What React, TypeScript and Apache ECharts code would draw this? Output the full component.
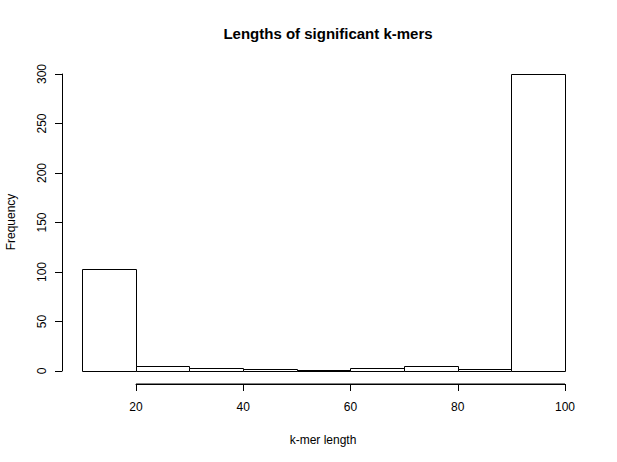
import React, { useEffect, useRef } from "react";
import * as echarts from "echarts";

const binStarts = [10, 20, 30, 40, 50, 60, 70, 80, 90];
const binEnds = [20, 30, 40, 50, 60, 70, 80, 90, 100];
const counts = [103, 5, 3, 2, 1, 3, 5, 2, 300];
const xTicks = [20, 40, 60, 80, 100];
const yTicks = [0, 50, 100, 150, 200, 250, 300];

const FONT = "Liberation Sans, Arial, Helvetica, sans-serif";

export default function App() {
  const ref = useRef<HTMLDivElement>(null);
  useEffect(() => {
    if (!ref.current) return;
    const chart = echarts.init(ref.current, null, { renderer: "svg" });
    const data = counts.map((c, i) => [binStarts[i], binEnds[i], c]);
    chart.setOption({
      animation: false,
      backgroundColor: "#ffffff",
      textStyle: { fontFamily: FONT },
      title: {
        text: "Lengths of significant k-mers",
        left: 323,
        top: 21,
        textAlign: "center",
        textStyle: { fontFamily: FONT, fontSize: 15, fontWeight: "bold", color: "#000" },
      },
      graphic: [
        {
          type: "text",
          x: 323,
          y: 440,
          style: {
            text: "k-mer length",
            fill: "#000",
            font: `12px ${FONT}`,
            textAlign: "center",
            textVerticalAlign: "middle",
          },
        },
        {
          type: "text",
          x: 11,
          y: 222,
          rotation: Math.PI / 2,
          style: {
            text: "Frequency",
            fill: "#000",
            font: `12px ${FONT}`,
            textAlign: "center",
            textVerticalAlign: "middle",
          },
        },
      ],
      grid: [
        { left: 82, right: 52, top: 74, bottom: 91 },
        { left: 136, right: 52, top: 74, bottom: 78 },
      ],
      xAxis: [
        {
          type: "value",
          gridIndex: 0,
          min: 10,
          max: 100,
          show: false,
        },
        {
          type: "value",
          gridIndex: 1,
          min: xTicks[0],
          max: xTicks[xTicks.length - 1],
          interval: 20,
          axisLine: { show: true, onZero: false, lineStyle: { color: "#000", width: 1 } },
          axisTick: { show: true, inside: false, length: 7, lineStyle: { color: "#000", width: 1 } },
          axisLabel: { show: true, color: "#000", fontSize: 12, margin: 17, fontFamily: FONT },
          splitLine: { show: false },
        },
      ],
      yAxis: [
        {
          type: "value",
          gridIndex: 0,
          min: yTicks[0],
          max: yTicks[yTicks.length - 1],
          interval: 50,
          offset: 20,
          axisLine: { show: true, lineStyle: { color: "#000", width: 1 } },
          axisTick: { show: true, length: 7, lineStyle: { color: "#000", width: 1 } },
          axisLabel: {
            show: true,
            color: "#000",
            fontSize: 12,
            rotate: 90,
            margin: 14,
            fontFamily: FONT,
          },
          splitLine: { show: false },
        },
        {
          type: "value",
          gridIndex: 1,
          min: 0,
          max: 300,
          show: false,
        },
      ],
      series: [
        {
          type: "custom",
          xAxisIndex: 0,
          yAxisIndex: 0,
          data,
          renderItem: (params: any, api: any) => {
            const x0 = api.value(0);
            const x1 = api.value(1);
            const c = api.value(2);
            const p0 = api.coord([x0, c]);
            const p1 = api.coord([x1, 0]);
            return {
              type: "rect",
              shape: {
                x: Math.round(p0[0]) + 0.5,
                y: Math.round(p0[1]) + 0.5,
                width: Math.round(p1[0]) - Math.round(p0[0]),
                height: Math.round(p1[1]) - Math.round(p0[1]),
              },
              style: { fill: "#ffffff", stroke: "#000", lineWidth: 1 },
            };
          },
        },
        {
          type: "line",
          xAxisIndex: 1,
          yAxisIndex: 1,
          data: [
            [xTicks[0], 0],
            [xTicks[xTicks.length - 1], 0],
          ],
          symbol: "none",
          silent: true,
          clip: false,
          lineStyle: { color: "#000", width: 1 },
        },
      ],
    });
    return () => chart.dispose();
  }, []);
  return (
    <div
      ref={ref}
      style={{ position: "fixed", left: 0, top: 0, width: 617, height: 462 }}
    />
  );
}
